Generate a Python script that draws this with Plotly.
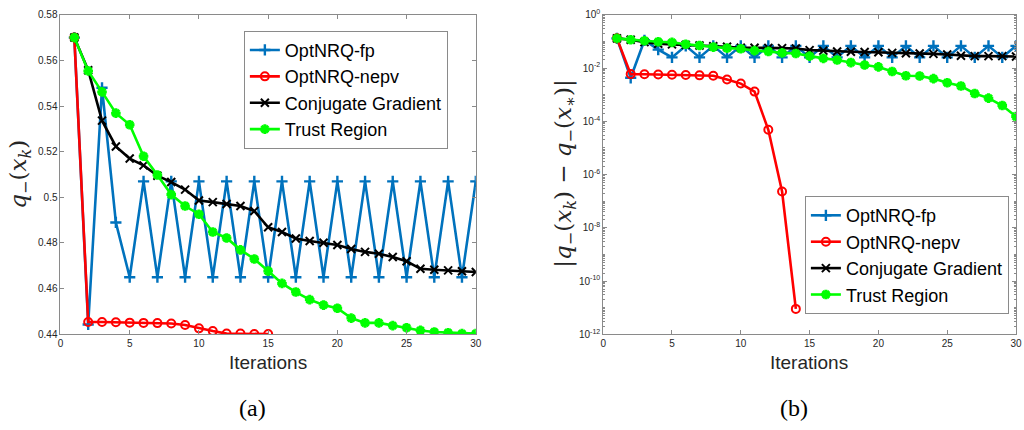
import plotly.graph_objects as go

iters = list(range(1, 31))
iters_nepv_a = list(range(1, 16))
iters_nepv_b = list(range(1, 15))

# (a) objective values q_-(x_k)
fp_a = [0.570, 0.4443, 0.548, 0.489, 0.465, 0.507, 0.465, 0.507, 0.465, 0.507,
        0.465, 0.507, 0.465, 0.507, 0.465, 0.507, 0.465, 0.507, 0.465, 0.507,
        0.465, 0.507, 0.465, 0.507, 0.465, 0.507, 0.465, 0.507, 0.465, 0.507]
nepv_a = [0.570, 0.4454, 0.4454, 0.4453, 0.4451, 0.4450, 0.4449, 0.4447, 0.4441,
          0.4426, 0.4414, 0.4403, 0.4403, 0.4401, 0.4401]
cg_a = [0.570, 0.5557, 0.5336, 0.5223, 0.517, 0.514, 0.5095, 0.5067, 0.5034, 0.4986,
        0.4979, 0.4971, 0.4962, 0.494, 0.4869, 0.4848, 0.482, 0.4809, 0.4801, 0.4791,
        0.4774, 0.4761, 0.4753, 0.4739, 0.472, 0.4687, 0.4683, 0.468, 0.4676, 0.4673]
tr_a = [0.570, 0.5554, 0.5462, 0.5369, 0.5318, 0.518, 0.5098, 0.5012, 0.4962, 0.4926,
        0.4848, 0.4822, 0.477, 0.473, 0.4677, 0.4623, 0.4585, 0.4552, 0.4528, 0.4514,
        0.4471, 0.445, 0.445, 0.4438, 0.4429, 0.4417, 0.441, 0.4407, 0.4403, 0.4403]

# (b) errors |q_-(x_k) - q_-(x_*)|
fp_b = [0.13, 0.0043, 0.11, 0.049, 0.025, 0.068, 0.025, 0.068, 0.025, 0.068,
        0.025, 0.068, 0.025, 0.068, 0.025, 0.068, 0.025, 0.068, 0.025, 0.068,
        0.025, 0.068, 0.025, 0.068, 0.025, 0.068, 0.025, 0.068, 0.025, 0.068]
nepv_b = [0.13, 5.9e-3, 5.8e-3, 5.7e-3, 5.6e-3, 5.5e-3, 5.3e-3, 5.1e-3, 3.7e-3,
          2.6e-3, 1.3e-3, 4.8e-5, 2.3e-7, 9e-12]
cg_b = [0.13, 0.115, 0.094, 0.082, 0.077, 0.074, 0.070, 0.066, 0.063, 0.058,
        0.058, 0.057, 0.056, 0.054, 0.047, 0.045, 0.042, 0.041, 0.040, 0.039,
        0.037, 0.036, 0.035, 0.034, 0.032, 0.029, 0.028, 0.028, 0.028, 0.027]
tr_b = [0.13, 0.115, 0.106, 0.097, 0.092, 0.078, 0.070, 0.061, 0.056, 0.053,
        0.045, 0.042, 0.037, 0.035, 0.028, 0.023, 0.020, 0.016, 0.013, 0.011,
        0.0074, 0.0051, 0.005, 0.004, 0.0028, 0.0021, 0.0011, 7.4e-4, 3.9e-4, 1.5e-4]

names = ["OptNRQ-fp", "OptNRQ-nepv", "Conjugate Gradient", "Trust Region"]
colors = ["#0072BD", "#FF0000", "#000000", "#00FF00"]
symbols = ["cross-thin-open", "circle-open", "x-thin-open", "asterisk-open"]
msizes = [8, 8, 8, 8]
mlw = [2.4, 2, 2, 3]

x_ticks = [0, 5, 10, 15, 20, 25, 30]
ya_ticks = [0.44, 0.46, 0.48, 0.50, 0.52, 0.54, 0.56, 0.58]
ya_text = ["0.44", "0.46", "0.48", "0.5", "0.52", "0.54", "0.56", "0.58"]
yb_exps = [0, -2, -4, -6, -8, -10, -12]

fig = go.Figure()

series_a = [(iters, fp_a), (iters_nepv_a, nepv_a), (iters, cg_a), (iters, tr_a)]
series_b = [(iters, fp_b), (iters_nepv_b, nepv_b), (iters, cg_b), (iters, tr_b)]

for i, (xs, ys) in enumerate(series_a):
    fig.add_trace(go.Scatter(
        x=xs, y=ys, name=names[i], mode="lines+markers",
        line=dict(color=colors[i], width=2.6),
        marker=dict(symbol=symbols[i], size=msizes[i], color=colors[i],
                    line=dict(color=colors[i], width=mlw[i])),
        xaxis="x", yaxis="y", legend="legend"))
for i, (xs, ys) in enumerate(series_b):
    fig.add_trace(go.Scatter(
        x=xs, y=ys, name=names[i], mode="lines+markers",
        line=dict(color=colors[i], width=2.6),
        marker=dict(symbol=symbols[i], size=msizes[i], color=colors[i],
                    line=dict(color=colors[i], width=mlw[i])),
        xaxis="x2", yaxis="y2", legend="legend2"))

W, H = 1024, 430
axcol = "#8a8a8a"
tickfont = dict(family="Liberation Sans, Arial, sans-serif", size=10, color="#262626")
common = dict(showline=True, linecolor=axcol, linewidth=1, mirror="ticks",
              ticks="inside", ticklen=4, tickcolor=axcol, showgrid=False,
              zeroline=False, tickfont=tickfont)

ydom = [1 - 337.5 / H, 1 - 8 / H]
minor_vals = [m * 10 ** e for e in range(-12, 0) for m in range(2, 10)] + \
             [10 ** e for e in [-1, -3, -5, -7, -9, -11]]

legfont = dict(family="Liberation Sans, Arial, sans-serif", size=18, color="#000")
fig.update_layout(
    width=W, height=H,
    margin=dict(l=0, r=0, t=0, b=0),
    paper_bgcolor="white", plot_bgcolor="white",
    showlegend=True,
    xaxis=dict(domain=[58 / W, 477 / W], range=[0, 30], tickvals=x_ticks,
               anchor="y", **common),
    yaxis=dict(domain=ydom, range=[0.44, 0.58], tickvals=ya_ticks, ticktext=ya_text,
               anchor="x", **common),
    xaxis2=dict(domain=[605.5 / W, 1022 / W], range=[0, 30], tickvals=x_ticks,
                anchor="y2", **common),
    yaxis2=dict(domain=ydom, type="log", range=[-12, 0],
                tickvals=[10 ** e for e in yb_exps],
                ticktext=["10<sup>%d</sup>" % e for e in yb_exps],
                minor=dict(tickmode="array", tickvals=minor_vals, ticks="inside",
                           ticklen=2, tickcolor=axcol),
                anchor="x2", **common),
    legend=dict(x=243 / W, y=1 - 24.5 / H, xanchor="left", yanchor="top",
                bgcolor="white", bordercolor=axcol, borderwidth=1,
                font=legfont, itemwidth=30, tracegroupgap=0),
    legend2=dict(x=809 / W, y=1 - 195 / H, xanchor="left", yanchor="top",
                 bgcolor="white", bordercolor=axcol, borderwidth=1,
                 font=legfont, itemwidth=30, tracegroupgap=0),
)

lab_font = dict(family="Liberation Sans, Arial, sans-serif", size=19, color="#262626")
serif = dict(family="DejaVu Serif, Liberation Serif, serif", size=23, color="#262626")
ann = [
    dict(text="Iterations", x=267 / W, y=1 - 367 / H, font=lab_font),
    dict(text="Iterations", x=813 / W, y=1 - 367 / H, font=lab_font),
    dict(text="(a)", x=252 / W, y=1 - 414 / H, font=dict(family="Liberation Serif, serif", size=24, color="#000")),
    dict(text="(b)", x=798 / W, y=1 - 414 / H, font=dict(family="Liberation Serif, serif", size=24, color="#000")),
    dict(text="<i>q</i><sub>−</sub>(<i>x</i><sub><i>k</i></sub>)", x=17 / W, y=1 - 172 / H,
         textangle=-90, font=serif),
    dict(text="|<i>q</i><sub>−</sub>(<i>x</i><sub><i>k</i></sub>) − <i>q</i><sub>−</sub>(<i>x</i><sub>∗</sub>)|",
         x=567 / W, y=1 - 172 / H, textangle=-90, font=serif),
]
for a in ann:
    fig.add_annotation(xref="paper", yref="paper", showarrow=False,
                       xanchor="center", yanchor="middle", **a)

fig.write_html("out.html")
